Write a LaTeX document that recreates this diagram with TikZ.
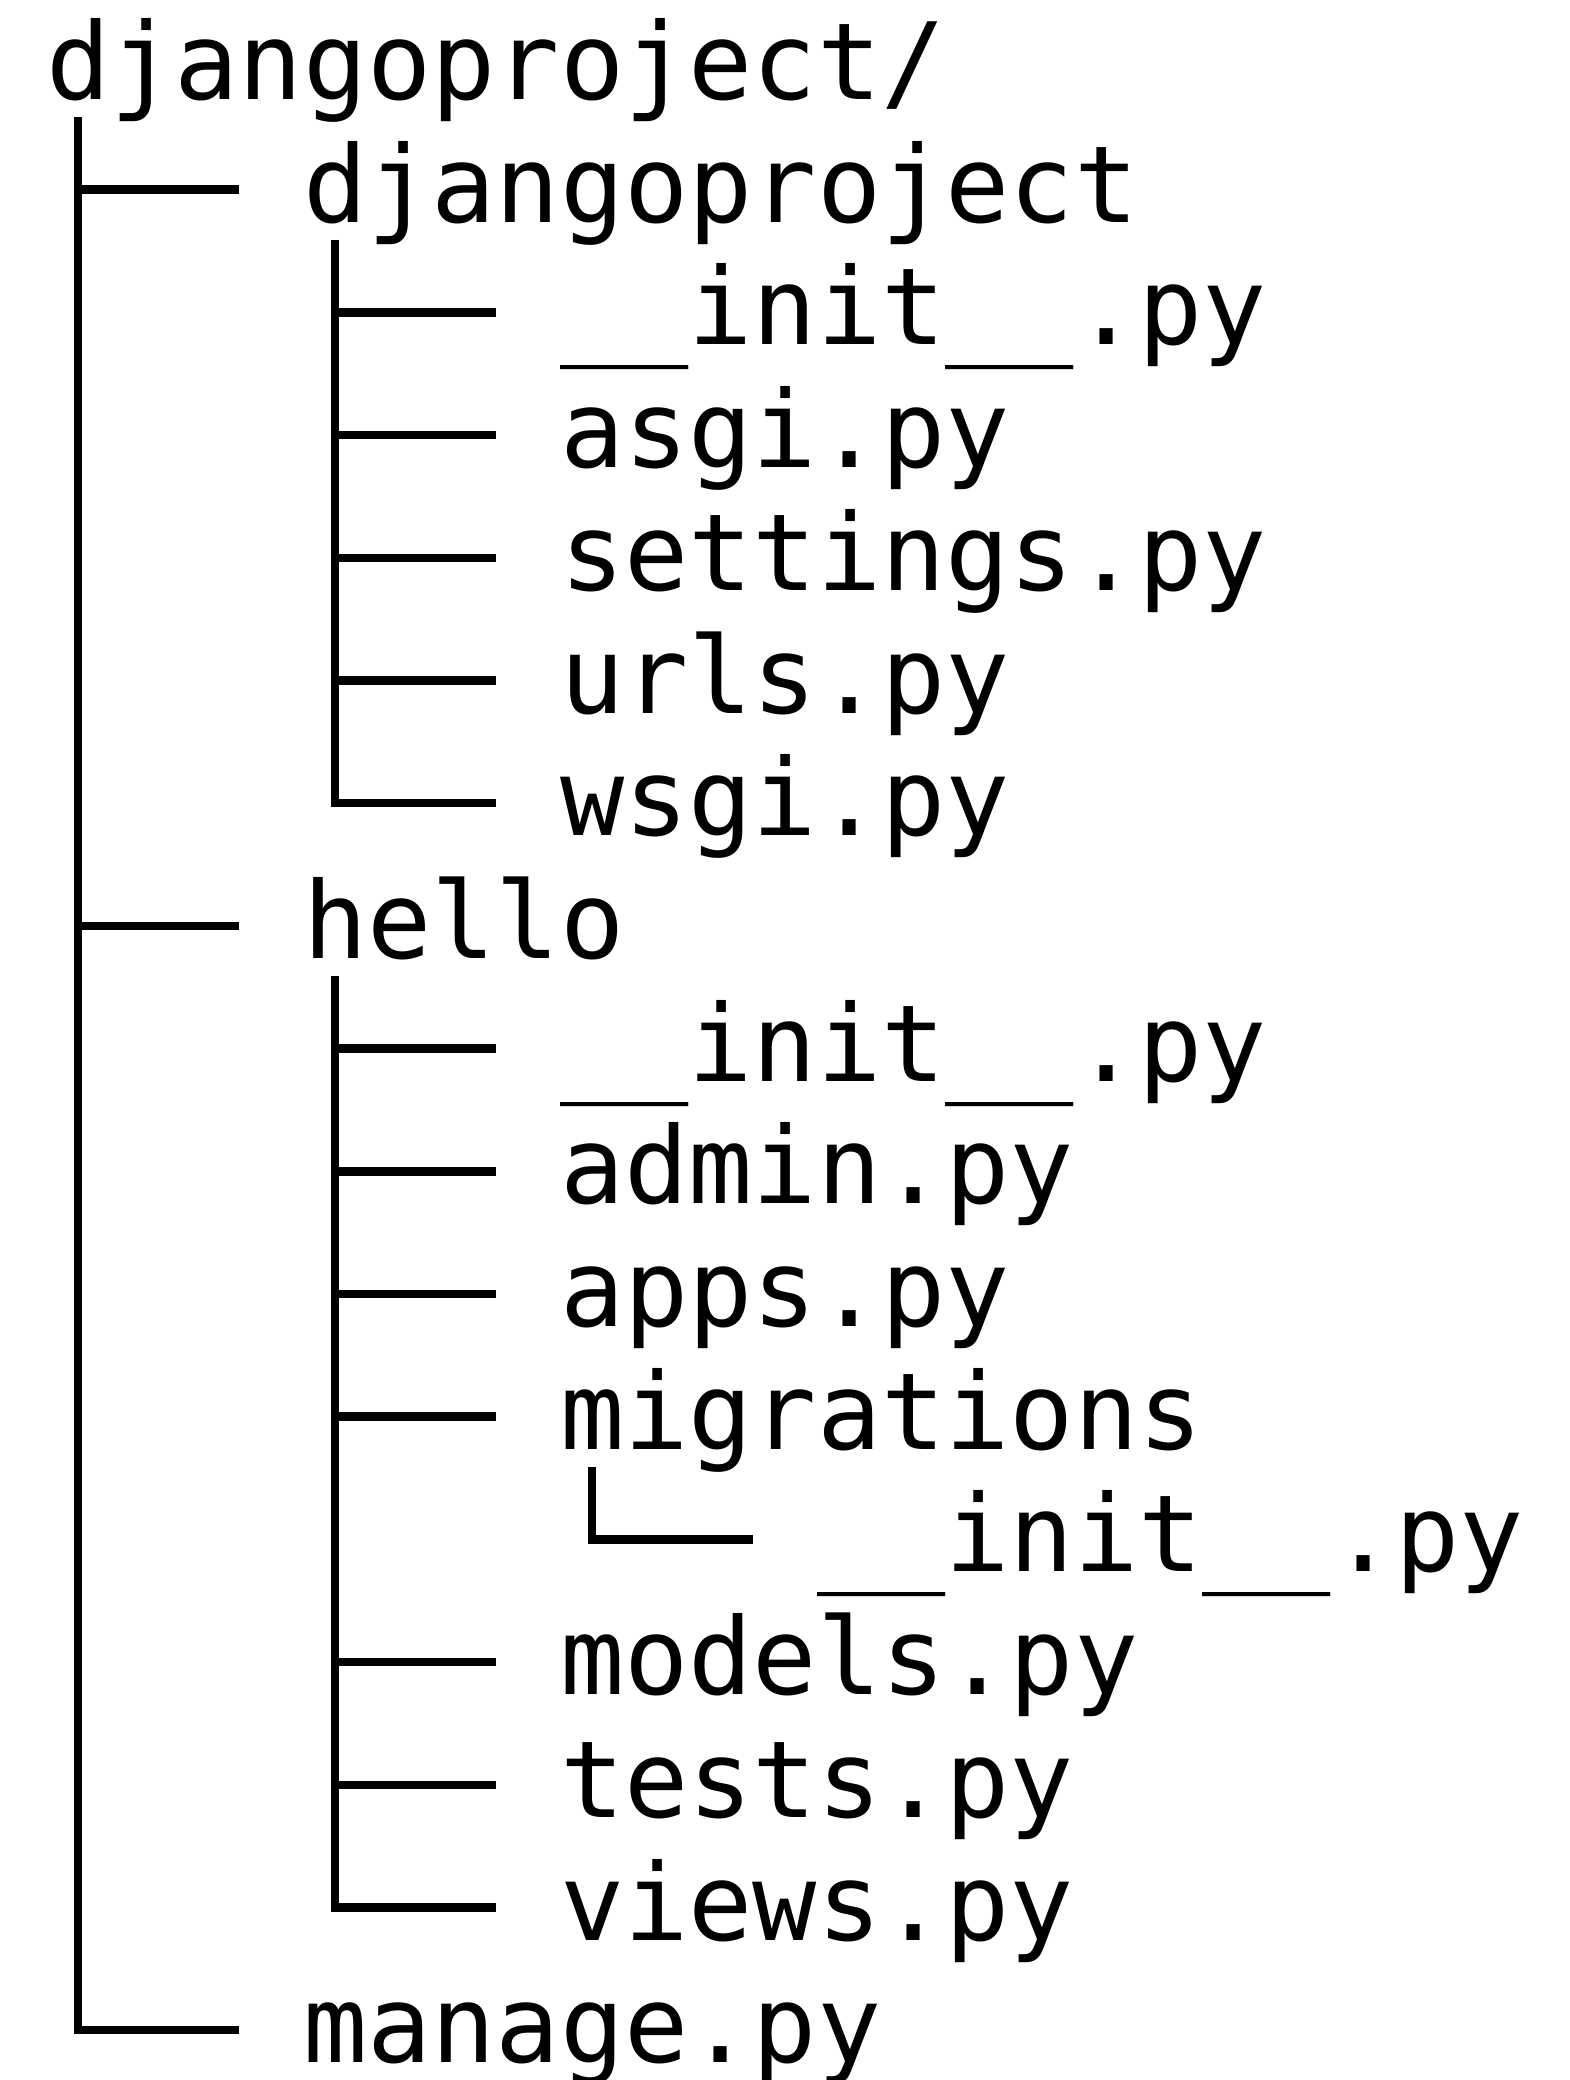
\documentclass[tikz,border=0pt]{standalone}
\usepackage{fontspec}
\setmonofont{DejaVu Sans Mono}
\usepackage{tikz}
\usetikzlibrary{positioning}
\newcommand{\cellw}{64.25pt}

\begin{document}
\begin{tikzpicture}[
  x=1pt, y=-1pt,
  entry/.style={anchor=base west, inner sep=0pt, text height=82.5pt, text depth=17.5pt,
                font=\ttfamily\fontsize{106.7pt}{122.7pt}\selectfont},
  branch/.style={line width=8.5pt},
  ]
  \useasboundingbox (0,0) rectangle (1569,2080);

  % top level
  \node[entry] (root) at (46,99.5) {djangoproject/};
  \node[entry] (proj) at (303,222.2) {djangoproject};
  \node[entry] (pinit) at (560,344.9) {\_\_init\_\_.py};
  \node[entry] (asgi) at (560,467.6) {asgi.py};
  \node[entry] (settings) at (560,590.3) {settings.py};
  \node[entry] (urls) at (560,713.0) {urls.py};
  \node[entry] (wsgi) at (560,835.7) {wsgi.py};
  \node[entry] (hello) at (303,958.4) {hello};
  \node[entry] (hinit) at (560,1081.1) {\_\_init\_\_.py};
  \node[entry] (admin) at (560,1203.8) {admin.py};
  \node[entry] (apps) at (560,1326.5) {apps.py};
  \node[entry] (migr) at (560,1449.2) {migrations};
  \node[entry] (minit) at (817,1571.9) {\_\_init\_\_.py};
  \node[entry] (models) at (560,1694.6) {models.py};
  \node[entry] (tests) at (560,1817.3) {tests.py};
  \node[entry] (views) at (560,1940.0) {views.py};
  \node[entry] (manage) at (303,2062.7) {manage.py};

  % branches
  \draw[branch] ([xshift=0.5*\cellw]root.south west) |- ([xshift=-\cellw]proj.west);
  \draw[branch] ([xshift=0.5*\cellw]root.south west) |- ([xshift=-\cellw]hello.west);
  \draw[branch] ([xshift=0.5*\cellw]root.south west) |- ([xshift=-\cellw]manage.west);

  \draw[branch] ([xshift=0.5*\cellw]proj.south west) |- ([xshift=-\cellw]pinit.west);
  \draw[branch] ([xshift=0.5*\cellw]proj.south west) |- ([xshift=-\cellw]asgi.west);
  \draw[branch] ([xshift=0.5*\cellw]proj.south west) |- ([xshift=-\cellw]settings.west);
  \draw[branch] ([xshift=0.5*\cellw]proj.south west) |- ([xshift=-\cellw]urls.west);
  \draw[branch] ([xshift=0.5*\cellw]proj.south west) |- ([xshift=-\cellw]wsgi.west);

  \draw[branch] ([xshift=0.5*\cellw]hello.south west) |- ([xshift=-\cellw]hinit.west);
  \draw[branch] ([xshift=0.5*\cellw]hello.south west) |- ([xshift=-\cellw]admin.west);
  \draw[branch] ([xshift=0.5*\cellw]hello.south west) |- ([xshift=-\cellw]apps.west);
  \draw[branch] ([xshift=0.5*\cellw]hello.south west) |- ([xshift=-\cellw]migr.west);
  \draw[branch] ([xshift=0.5*\cellw]hello.south west) |- ([xshift=-\cellw]models.west);
  \draw[branch] ([xshift=0.5*\cellw]hello.south west) |- ([xshift=-\cellw]tests.west);
  \draw[branch] ([xshift=0.5*\cellw]hello.south west) |- ([xshift=-\cellw]views.west);

  \draw[branch] ([xshift=0.5*\cellw]migr.south west) |- ([xshift=-\cellw]minit.west);
\end{tikzpicture}
\end{document}
